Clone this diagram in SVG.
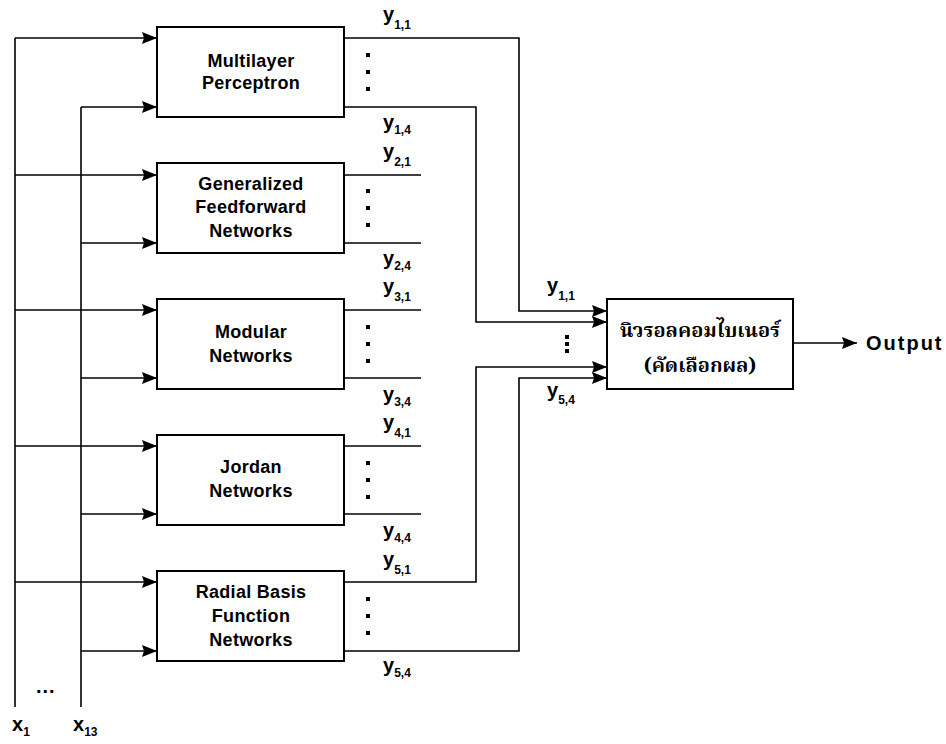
<svg xmlns="http://www.w3.org/2000/svg" width="946" height="744" viewBox="0 0 946 744">
<style>
  .box { fill: #ffffff; stroke: #000000; stroke-width: 2; }
  .ln { fill: none; stroke: #000000; stroke-width: 1.6; }
  .arr { fill: none; stroke: #000000; stroke-width: 1.6; marker-end: url(#ah); }
  .t { font-family: "Liberation Sans", Arial, sans-serif; font-weight: bold; font-size: 18px; letter-spacing: 0.3px; fill: #000000; text-anchor: middle; }
  .lbl { font-family: "Liberation Sans", Arial, sans-serif; font-weight: bold; font-size: 20px; fill: #000000; }
  .sub { font-size: 12px; }
  .th { font-family: "Noto Serif Thai", "Noto Sans Thai", "Loma", "Garuda", "Liberation Serif", "DejaVu Serif", serif; font-weight: bold; font-size: 20px; fill: #000000; text-anchor: middle; }
  .out { font-family: "Liberation Sans", Arial, sans-serif; font-weight: bold; font-size: 20px; letter-spacing: 2px; fill: #000000; }
  .dot { fill: #000000; }
</style>
<defs>
  <marker id="ah" markerUnits="userSpaceOnUse" markerWidth="15" markerHeight="12" refX="15" refY="6" orient="auto">
    <path d="M0,0 L15,6 L0,12 L2,6 z" fill="#000000"/>
  </marker>
</defs>

<g id="connectors">
  <path class="ln" d="M15,38 V707"/>
  <path class="ln" d="M81,107 V707"/>
  <path class="arr" d="M15,38 H157"/>
  <path class="arr" d="M81,107 H157"/>
  <path class="arr" d="M15,175 H157"/>
  <path class="arr" d="M81,243 H157"/>
  <path class="arr" d="M15,310 H157"/>
  <path class="arr" d="M81,378 H157"/>
  <path class="arr" d="M15,446 H157"/>
  <path class="arr" d="M81,514 H157"/>
  <path class="arr" d="M15,582 H157"/>
  <path class="arr" d="M81,651 H157"/>

  <path class="arr" d="M344,38 H519 V311 H607"/>
  <path class="arr" d="M344,107 H476 V322 H607"/>
  <path class="ln" d="M344,175 H421"/>
  <path class="ln" d="M344,243 H421"/>
  <path class="ln" d="M344,310 H421"/>
  <path class="ln" d="M344,378 H421"/>
  <path class="ln" d="M344,446 H421"/>
  <path class="ln" d="M344,514 H421"/>
  <path class="arr" d="M344,582 H476 V367 H607"/>
  <path class="arr" d="M344,651 H519 V378 H607"/>
  <path class="arr" d="M793,343 H857"/>
</g>

<g id="mlp">
  <rect class="box" x="157" y="27" width="187" height="90"/>
  <text class="t" x="251" y="67">Multilayer</text>
  <text class="t" x="251" y="89">Perceptron</text>
  <rect class="dot" x="366" y="53" width="4" height="4"/>
  <rect class="dot" x="366" y="70" width="4" height="4"/>
  <rect class="dot" x="366" y="87" width="4" height="4"/>
  <text class="lbl" x="383" y="21">y<tspan class="sub" dy="8">1,1</tspan></text>
  <text class="lbl" x="383" y="129">y<tspan class="sub" dy="5">1,4</tspan></text>
</g>

<g id="gff">
  <rect class="box" x="157" y="163" width="187" height="90"/>
  <text class="t" x="251" y="190">Generalized</text>
  <text class="t" x="251" y="213">Feedforward</text>
  <text class="t" x="251" y="237">Networks</text>
  <rect class="dot" x="366" y="189" width="4" height="4"/>
  <rect class="dot" x="366" y="206" width="4" height="4"/>
  <rect class="dot" x="366" y="223" width="4" height="4"/>
  <text class="lbl" x="383" y="158">y<tspan class="sub" dy="8">2,1</tspan></text>
  <text class="lbl" x="383" y="265">y<tspan class="sub" dy="5">2,4</tspan></text>
</g>

<g id="modular">
  <rect class="box" x="157" y="299" width="187" height="90"/>
  <text class="t" x="251" y="338">Modular</text>
  <text class="t" x="251" y="362">Networks</text>
  <rect class="dot" x="366" y="325" width="4" height="4"/>
  <rect class="dot" x="366" y="342" width="4" height="4"/>
  <rect class="dot" x="366" y="359" width="4" height="4"/>
  <text class="lbl" x="383" y="293">y<tspan class="sub" dy="8">3,1</tspan></text>
  <text class="lbl" x="383" y="401">y<tspan class="sub" dy="5">3,4</tspan></text>
</g>

<g id="jordan">
  <rect class="box" x="157" y="435" width="187" height="90"/>
  <text class="t" x="251" y="473">Jordan</text>
  <text class="t" x="251" y="497">Networks</text>
  <rect class="dot" x="366" y="461" width="4" height="4"/>
  <rect class="dot" x="366" y="478" width="4" height="4"/>
  <rect class="dot" x="366" y="495" width="4" height="4"/>
  <text class="lbl" x="383" y="429">y<tspan class="sub" dy="8">4,1</tspan></text>
  <text class="lbl" x="383" y="537">y<tspan class="sub" dy="5">4,4</tspan></text>
</g>

<g id="rbf">
  <rect class="box" x="157" y="571" width="187" height="90"/>
  <text class="t" x="251" y="598">Radial Basis</text>
  <text class="t" x="251" y="622">Function</text>
  <text class="t" x="251" y="646">Networks</text>
  <rect class="dot" x="366" y="597" width="4" height="4"/>
  <rect class="dot" x="366" y="614" width="4" height="4"/>
  <rect class="dot" x="366" y="631" width="4" height="4"/>
  <text class="lbl" x="383" y="566">y<tspan class="sub" dy="8">5,1</tspan></text>
  <text class="lbl" x="383" y="672">y<tspan class="sub" dy="5">5,4</tspan></text>
</g>

<g id="combiner">
  <rect class="box" x="607" y="299" width="186" height="90"/>
  <text class="th" x="700" y="337">นิวรอลคอมไบเนอร์</text>
  <text class="th" x="700" y="372">(คัดเลือกผล)</text>
  <text class="lbl" x="547" y="292">y<tspan class="sub" dy="8">1,1</tspan></text>
  <rect class="dot" x="565" y="335" width="4" height="4"/>
  <rect class="dot" x="565" y="342" width="4" height="4"/>
  <rect class="dot" x="565" y="349" width="4" height="4"/>
  <text class="lbl" x="547" y="397">y<tspan class="sub" dy="7">5,4</tspan></text>
</g>

<g id="output">
  <text class="out" x="866" y="350">Output</text>
</g>

<g id="inputs">
  <text class="lbl" x="36" y="693" style="letter-spacing:1px">...</text>
  <text class="lbl" x="12" y="731">x<tspan class="sub" dy="5">1</tspan></text>
  <text class="lbl" x="73" y="731">x<tspan class="sub" dy="5">13</tspan></text>
</g>
</svg>
